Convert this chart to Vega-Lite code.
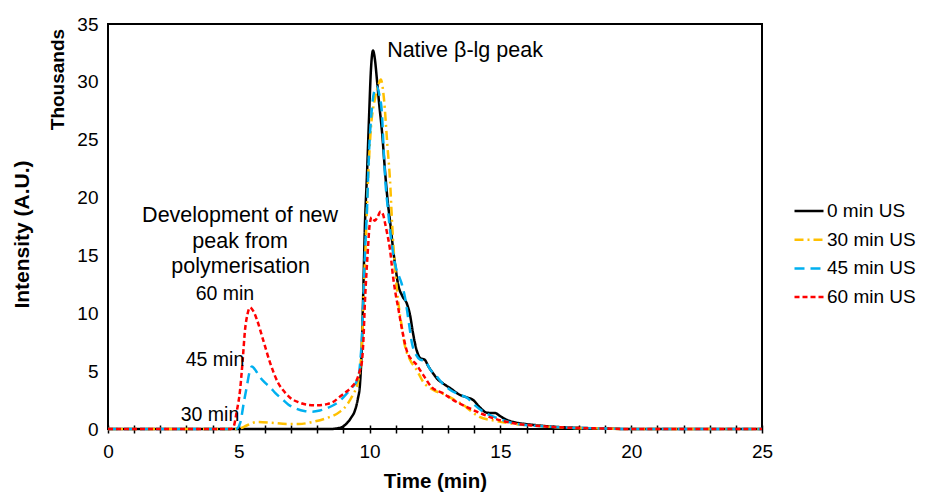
{
  "$schema": "https://vega.github.io/schema/vega-lite/v6.json",
  "width": 654,
  "height": 405,
  "autosize": {"type": "none"},
  "padding": {"left": 108, "top": 24, "right": 168, "bottom": 66},
  "config": {
    "font": "Liberation Sans",
    "view": {"stroke": "#000000", "strokeWidth": 2},
    "axis": {"labelColor": "#000000", "titleColor": "#000000", "labelFont": "Liberation Sans", "titleFont": "Liberation Sans"},
    "legend": {"labelColor": "#000000", "labelFont": "Liberation Sans"}
  },
  "datasets": {
    "curves": [
      {"series": "0 min US", "t": 0, "v": 0},
      {"series": "0 min US", "t": 8.5, "v": 0},
      {"series": "0 min US", "t": 8.87, "v": 0.1},
      {"series": "0 min US", "t": 9.13, "v": 0.5},
      {"series": "0 min US", "t": 9.3, "v": 1.0},
      {"series": "0 min US", "t": 9.44, "v": 1.6},
      {"series": "0 min US", "t": 9.55, "v": 2.6},
      {"series": "0 min US", "t": 9.63, "v": 3.8},
      {"series": "0 min US", "t": 9.7, "v": 7},
      {"series": "0 min US", "t": 9.76, "v": 12},
      {"series": "0 min US", "t": 9.82, "v": 17.5},
      {"series": "0 min US", "t": 9.9, "v": 22},
      {"series": "0 min US", "t": 9.98, "v": 27},
      {"series": "0 min US", "t": 10.05, "v": 31},
      {"series": "0 min US", "t": 10.13, "v": 32.7},
      {"series": "0 min US", "t": 10.2, "v": 32.0},
      {"series": "0 min US", "t": 10.28, "v": 30.2},
      {"series": "0 min US", "t": 10.37, "v": 28},
      {"series": "0 min US", "t": 10.47, "v": 25.8},
      {"series": "0 min US", "t": 10.6, "v": 22},
      {"series": "0 min US", "t": 10.7, "v": 19.5},
      {"series": "0 min US", "t": 10.78, "v": 18.0},
      {"series": "0 min US", "t": 10.9, "v": 15.5},
      {"series": "0 min US", "t": 11.0, "v": 13.8},
      {"series": "0 min US", "t": 11.09, "v": 12.5},
      {"series": "0 min US", "t": 11.25, "v": 11.5},
      {"series": "0 min US", "t": 11.43, "v": 10.8},
      {"series": "0 min US", "t": 11.55, "v": 9.8},
      {"series": "0 min US", "t": 11.65, "v": 8.4},
      {"series": "0 min US", "t": 11.8, "v": 6.8},
      {"series": "0 min US", "t": 11.95, "v": 6.1},
      {"series": "0 min US", "t": 12.1, "v": 6.0},
      {"series": "0 min US", "t": 12.25, "v": 5.4},
      {"series": "0 min US", "t": 12.43, "v": 4.8},
      {"series": "0 min US", "t": 12.6, "v": 4.3},
      {"series": "0 min US", "t": 12.8, "v": 3.95},
      {"series": "0 min US", "t": 13.1, "v": 3.5},
      {"series": "0 min US", "t": 13.45, "v": 2.95},
      {"series": "0 min US", "t": 13.7, "v": 2.75},
      {"series": "0 min US", "t": 13.96, "v": 2.5},
      {"series": "0 min US", "t": 14.2, "v": 1.9},
      {"series": "0 min US", "t": 14.5, "v": 1.4},
      {"series": "0 min US", "t": 14.8, "v": 1.38},
      {"series": "0 min US", "t": 15.0, "v": 1.1},
      {"series": "0 min US", "t": 15.25, "v": 0.78},
      {"series": "0 min US", "t": 15.6, "v": 0.55},
      {"series": "0 min US", "t": 16.0, "v": 0.42},
      {"series": "0 min US", "t": 16.5, "v": 0.3},
      {"series": "0 min US", "t": 17, "v": 0.2},
      {"series": "0 min US", "t": 18, "v": 0.1},
      {"series": "0 min US", "t": 19, "v": 0.04},
      {"series": "0 min US", "t": 20, "v": 0},
      {"series": "0 min US", "t": 25, "v": 0},

      {"series": "30 min US", "t": 0, "v": 0},
      {"series": "30 min US", "t": 4.95, "v": 0},
      {"series": "30 min US", "t": 5.05, "v": 0.05},
      {"series": "30 min US", "t": 5.3, "v": 0.3},
      {"series": "30 min US", "t": 5.7, "v": 0.6},
      {"series": "30 min US", "t": 6.2, "v": 0.55},
      {"series": "30 min US", "t": 6.84, "v": 0.43},
      {"series": "30 min US", "t": 7.3, "v": 0.43},
      {"series": "30 min US", "t": 7.8, "v": 0.6},
      {"series": "30 min US", "t": 8.37, "v": 0.95},
      {"series": "30 min US", "t": 8.87, "v": 1.5},
      {"series": "30 min US", "t": 9.17, "v": 2.2},
      {"series": "30 min US", "t": 9.37, "v": 3.0},
      {"series": "30 min US", "t": 9.55, "v": 4.0},
      {"series": "30 min US", "t": 9.65, "v": 5.5},
      {"series": "30 min US", "t": 9.72, "v": 8},
      {"series": "30 min US", "t": 9.78, "v": 12},
      {"series": "30 min US", "t": 9.85, "v": 16},
      {"series": "30 min US", "t": 9.95, "v": 22},
      {"series": "30 min US", "t": 10.05, "v": 26},
      {"series": "30 min US", "t": 10.2, "v": 28.5},
      {"series": "30 min US", "t": 10.33, "v": 29.7},
      {"series": "30 min US", "t": 10.43, "v": 30.2},
      {"series": "30 min US", "t": 10.55, "v": 28.5},
      {"series": "30 min US", "t": 10.68, "v": 24.5},
      {"series": "30 min US", "t": 10.78, "v": 21.5},
      {"series": "30 min US", "t": 10.86, "v": 17.8},
      {"series": "30 min US", "t": 10.92, "v": 15.5},
      {"series": "30 min US", "t": 10.98, "v": 13.7},
      {"series": "30 min US", "t": 11.1, "v": 10.9},
      {"series": "30 min US", "t": 11.22, "v": 9.0},
      {"series": "30 min US", "t": 11.35, "v": 7.2},
      {"series": "30 min US", "t": 11.54, "v": 6.0},
      {"series": "30 min US", "t": 11.8, "v": 5.1},
      {"series": "30 min US", "t": 12.04, "v": 4.1},
      {"series": "30 min US", "t": 12.42, "v": 3.4},
      {"series": "30 min US", "t": 12.95, "v": 2.9},
      {"series": "30 min US", "t": 13.25, "v": 2.5},
      {"series": "30 min US", "t": 13.57, "v": 2.1},
      {"series": "30 min US", "t": 13.9, "v": 1.5},
      {"series": "30 min US", "t": 14.2, "v": 1.05},
      {"series": "30 min US", "t": 14.7, "v": 0.75},
      {"series": "30 min US", "t": 15.5, "v": 0.45},
      {"series": "30 min US", "t": 16.5, "v": 0.25},
      {"series": "30 min US", "t": 17.5, "v": 0.12},
      {"series": "30 min US", "t": 19, "v": 0.04},
      {"series": "30 min US", "t": 20, "v": 0},
      {"series": "30 min US", "t": 25, "v": 0},

      {"series": "45 min US", "t": 0, "v": 0},
      {"series": "45 min US", "t": 4.9, "v": 0},
      {"series": "45 min US", "t": 5.05, "v": 0.5},
      {"series": "45 min US", "t": 5.2, "v": 2.4},
      {"series": "45 min US", "t": 5.3, "v": 3.6},
      {"series": "45 min US", "t": 5.42, "v": 5.0},
      {"series": "45 min US", "t": 5.5, "v": 5.4},
      {"series": "45 min US", "t": 5.6, "v": 5.2},
      {"series": "45 min US", "t": 5.8, "v": 4.5},
      {"series": "45 min US", "t": 6.0, "v": 4.0},
      {"series": "45 min US", "t": 6.2, "v": 3.6},
      {"series": "45 min US", "t": 6.4, "v": 3.1},
      {"series": "45 min US", "t": 6.65, "v": 2.6},
      {"series": "45 min US", "t": 6.9, "v": 2.1},
      {"series": "45 min US", "t": 7.2, "v": 1.75},
      {"series": "45 min US", "t": 7.5, "v": 1.55},
      {"series": "45 min US", "t": 7.8, "v": 1.5},
      {"series": "45 min US", "t": 8.1, "v": 1.6},
      {"series": "45 min US", "t": 8.37, "v": 1.8},
      {"series": "45 min US", "t": 8.65, "v": 2.1},
      {"series": "45 min US", "t": 8.87, "v": 2.45},
      {"series": "45 min US", "t": 9.1, "v": 3.0},
      {"series": "45 min US", "t": 9.3, "v": 3.5},
      {"series": "45 min US", "t": 9.56, "v": 4.4},
      {"series": "45 min US", "t": 9.65, "v": 6},
      {"series": "45 min US", "t": 9.71, "v": 8},
      {"series": "45 min US", "t": 9.76, "v": 11},
      {"series": "45 min US", "t": 9.82, "v": 15},
      {"series": "45 min US", "t": 9.9, "v": 19},
      {"series": "45 min US", "t": 9.98, "v": 24},
      {"series": "45 min US", "t": 10.08, "v": 27.5},
      {"series": "45 min US", "t": 10.18, "v": 29.2},
      {"series": "45 min US", "t": 10.28, "v": 29.6},
      {"series": "45 min US", "t": 10.38, "v": 28.8},
      {"series": "45 min US", "t": 10.47, "v": 27.3},
      {"series": "45 min US", "t": 10.53, "v": 24.5},
      {"series": "45 min US", "t": 10.6, "v": 21.5},
      {"series": "45 min US", "t": 10.7, "v": 19},
      {"series": "45 min US", "t": 10.78, "v": 17.2},
      {"series": "45 min US", "t": 10.9, "v": 15.2},
      {"series": "45 min US", "t": 11.0, "v": 14.0},
      {"series": "45 min US", "t": 11.09, "v": 13.4},
      {"series": "45 min US", "t": 11.22, "v": 12.6},
      {"series": "45 min US", "t": 11.35, "v": 11.4},
      {"series": "45 min US", "t": 11.5, "v": 9.2},
      {"series": "45 min US", "t": 11.62, "v": 7.4},
      {"series": "45 min US", "t": 11.78, "v": 6.4},
      {"series": "45 min US", "t": 11.93, "v": 6.0},
      {"series": "45 min US", "t": 12.12, "v": 5.9},
      {"series": "45 min US", "t": 12.3, "v": 5.2},
      {"series": "45 min US", "t": 12.58, "v": 4.5},
      {"series": "45 min US", "t": 12.8, "v": 3.9},
      {"series": "45 min US", "t": 13.07, "v": 3.4},
      {"series": "45 min US", "t": 13.4, "v": 3.0},
      {"series": "45 min US", "t": 13.72, "v": 2.7},
      {"series": "45 min US", "t": 14.0, "v": 2.1},
      {"series": "45 min US", "t": 14.34, "v": 1.5},
      {"series": "45 min US", "t": 14.87, "v": 0.95},
      {"series": "45 min US", "t": 15.5, "v": 0.5},
      {"series": "45 min US", "t": 16.5, "v": 0.25},
      {"series": "45 min US", "t": 17.5, "v": 0.12},
      {"series": "45 min US", "t": 19, "v": 0.04},
      {"series": "45 min US", "t": 20, "v": 0},
      {"series": "45 min US", "t": 25, "v": 0},

      {"series": "60 min US", "t": 0, "v": 0},
      {"series": "60 min US", "t": 4.7, "v": 0},
      {"series": "60 min US", "t": 4.8, "v": 0.2},
      {"series": "60 min US", "t": 4.92, "v": 1.5},
      {"series": "60 min US", "t": 5.05, "v": 3.4},
      {"series": "60 min US", "t": 5.15, "v": 6.0},
      {"series": "60 min US", "t": 5.24, "v": 8.6},
      {"series": "60 min US", "t": 5.33, "v": 9.9},
      {"series": "60 min US", "t": 5.43, "v": 10.5},
      {"series": "60 min US", "t": 5.55, "v": 10.2},
      {"series": "60 min US", "t": 5.7, "v": 9.4},
      {"series": "60 min US", "t": 5.93, "v": 7.7},
      {"series": "60 min US", "t": 6.2, "v": 5.7},
      {"series": "60 min US", "t": 6.5, "v": 4.0},
      {"series": "60 min US", "t": 6.75, "v": 3.2},
      {"series": "60 min US", "t": 6.96, "v": 2.7},
      {"series": "60 min US", "t": 7.3, "v": 2.3},
      {"series": "60 min US", "t": 7.6, "v": 2.1},
      {"series": "60 min US", "t": 8.0, "v": 2.05},
      {"series": "60 min US", "t": 8.37, "v": 2.15},
      {"series": "60 min US", "t": 8.65, "v": 2.4},
      {"series": "60 min US", "t": 8.87, "v": 2.8},
      {"series": "60 min US", "t": 9.1, "v": 3.2},
      {"series": "60 min US", "t": 9.3, "v": 3.6},
      {"series": "60 min US", "t": 9.52, "v": 4.3},
      {"series": "60 min US", "t": 9.62, "v": 5.0},
      {"series": "60 min US", "t": 9.71, "v": 5.9},
      {"series": "60 min US", "t": 9.77, "v": 8},
      {"series": "60 min US", "t": 9.82, "v": 10.9},
      {"series": "60 min US", "t": 9.88, "v": 13.5},
      {"series": "60 min US", "t": 9.94, "v": 15.7},
      {"series": "60 min US", "t": 10.0, "v": 17.6},
      {"series": "60 min US", "t": 10.08, "v": 18.3},
      {"series": "60 min US", "t": 10.2, "v": 18.0},
      {"series": "60 min US", "t": 10.3, "v": 18.3},
      {"series": "60 min US", "t": 10.42, "v": 18.8},
      {"series": "60 min US", "t": 10.52, "v": 18.5},
      {"series": "60 min US", "t": 10.59, "v": 17.8},
      {"series": "60 min US", "t": 10.68, "v": 16.8},
      {"series": "60 min US", "t": 10.78, "v": 15.5},
      {"series": "60 min US", "t": 10.9, "v": 13.1},
      {"series": "60 min US", "t": 11.0, "v": 11.6},
      {"series": "60 min US", "t": 11.09, "v": 10.5},
      {"series": "60 min US", "t": 11.24, "v": 8.6},
      {"series": "60 min US", "t": 11.43, "v": 6.7},
      {"series": "60 min US", "t": 11.6, "v": 6.0},
      {"series": "60 min US", "t": 11.74, "v": 5.7},
      {"series": "60 min US", "t": 12.04, "v": 4.7},
      {"series": "60 min US", "t": 12.38, "v": 3.6},
      {"series": "60 min US", "t": 12.8, "v": 3.1},
      {"series": "60 min US", "t": 13.2, "v": 2.5},
      {"series": "60 min US", "t": 13.72, "v": 1.9},
      {"series": "60 min US", "t": 14.2, "v": 1.4},
      {"series": "60 min US", "t": 14.7, "v": 0.95},
      {"series": "60 min US", "t": 15.5, "v": 0.5},
      {"series": "60 min US", "t": 16.5, "v": 0.26},
      {"series": "60 min US", "t": 17.5, "v": 0.12},
      {"series": "60 min US", "t": 19, "v": 0.04},
      {"series": "60 min US", "t": 20, "v": 0},
      {"series": "60 min US", "t": 25, "v": 0}
    ],
    "peakNote": [
      {"label": "Native β-lg peak", "t": 10.67, "v": 32.67}
    ],
    "bigNotes": [
      {"label": "Development of new", "t": 5.05, "v": 18.4},
      {"label": "peak from", "t": 5.05, "v": 16.2},
      {"label": "polymerisation", "t": 5.07, "v": 14.0}
    ],
    "smallNotes": [
      {"label": "60 min", "t": 4.47, "v": 11.7},
      {"label": "45 min", "t": 4.09, "v": 5.96},
      {"label": "30 min", "t": 3.9, "v": 1.21}
    ],
    "unitNote": [
      {"label": "Thousands", "t": -1.93, "v": 30.2}
    ]
  },
  "encoding": {
    "x": {
      "field": "t", "type": "quantitative",
      "scale": {"domain": [0, 25], "nice": false, "zero": false},
      "axis": {
        "values": [0,1,2,3,4,5,6,7,8,9,10,11,12,13,14,15,16,17,18,19,20,21,22,23,24,25],
        "labelExpr": "datum.value % 5 === 0 ? datum.label : ''",
        "labelOverlap": false,
        "labelFlush": false,
        "domain": false,
        "grid": false,
        "tickSize": 8,
        "tickWidth": 1.5,
        "tickColor": "#000000",
        "offset": -4,
        "labelPadding": 9,
        "labelFontSize": 19,
        "title": "Time (min)",
        "titleFontSize": 20.5,
        "titleFontWeight": "bold",
        "titlePadding": 10
      }
    },
    "y": {
      "field": "v", "type": "quantitative",
      "scale": {"domain": [0, 35], "nice": false},
      "axis": {
        "values": [0, 5, 10, 15, 20, 25, 30, 35],
        "domain": false,
        "ticks": false,
        "grid": false,
        "labelPadding": 10,
        "labelFontSize": 19,
        "title": "Intensity (A.U.)",
        "titleFontSize": 21,
        "titleFontWeight": "bold",
        "titleAngle": 270,
        "titleAlign": "center",
        "titleBaseline": "middle",
        "titleX": -86,
        "titleY": 210
      }
    }
  },
  "layer": [
    {
      "data": {"name": "curves"},
      "mark": {"type": "line", "interpolate": "monotone", "strokeWidth": 2.5},
      "encoding": {
        "color": {
          "field": "series", "type": "nominal",
          "scale": {
            "domain": ["0 min US", "30 min US", "45 min US", "60 min US"],
            "range": ["#000000", "#FFC000", "#00B0F0", "#FF0000"]
          },
          "legend": {
            "orient": "none", "legendX": 685, "legendY": 171, "title": null,
            "symbolType": "stroke", "symbolSize": 841, "symbolStrokeWidth": 2.5,
            "labelFontSize": 19, "labelOffset": 2, "rowPadding": 2.7, "padding": 0
          }
        },
        "strokeDash": {
          "field": "series", "type": "nominal",
          "scale": {
            "domain": ["0 min US", "30 min US", "45 min US", "60 min US"],
            "range": [[1, 0], [9, 4, 2, 4], [10, 6], [5, 3]]
          },
          "legend": {
            "orient": "none", "legendX": 685, "legendY": 171, "title": null,
            "symbolType": "stroke", "symbolSize": 841, "symbolStrokeWidth": 2.5,
            "labelFontSize": 19, "labelOffset": 2, "rowPadding": 2.7, "padding": 0
          }
        },
        "order": {"field": "t", "type": "quantitative"}
      }
    },
    {
      "data": {"name": "peakNote"},
      "mark": {"type": "text", "fontSize": 21.5, "baseline": "middle", "align": "left", "color": "#000000"},
      "encoding": {"text": {"field": "label"}}
    },
    {
      "data": {"name": "bigNotes"},
      "mark": {"type": "text", "fontSize": 21.5, "baseline": "middle", "align": "center", "color": "#000000"},
      "encoding": {"text": {"field": "label"}}
    },
    {
      "data": {"name": "smallNotes"},
      "mark": {"type": "text", "fontSize": 19.5, "baseline": "middle", "align": "center", "color": "#000000"},
      "encoding": {"text": {"field": "label"}}
    },
    {
      "data": {"name": "unitNote"},
      "mark": {"type": "text", "fontSize": 19, "fontWeight": "bold", "angle": 270, "baseline": "middle", "align": "center", "color": "#000000"},
      "encoding": {"text": {"field": "label"}}
    }
  ]
}
